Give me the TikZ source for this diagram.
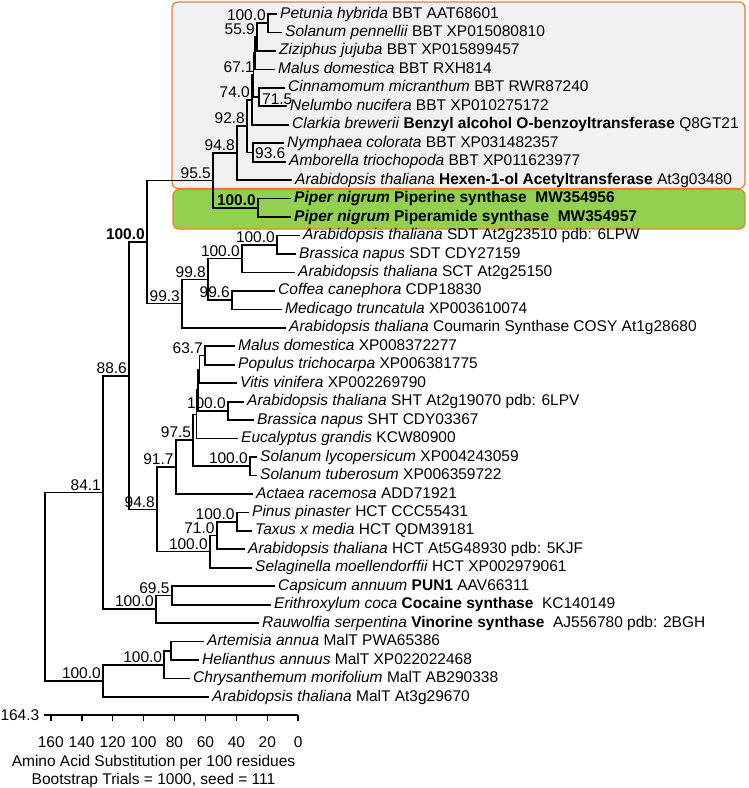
\documentclass[tikz,border=0pt]{standalone}
\usepackage{fontspec}
\setmainfont{Liberation Sans}
\usepackage{xcolor}
\definecolor{cladeorange}{RGB}{237,125,49}
\definecolor{cladegray}{RGB}{241,241,241}
\definecolor{pipergreen}{RGB}{146,208,80}
\usepackage{tikz}
\usetikzlibrary{positioning}

\begin{document}
\begin{tikzpicture}[
  x=1pt,y=-1pt,
  leaf/.style={anchor=west,inner xsep=3pt,inner ysep=0pt,text height=11pt,
    text depth=3pt,font=\fontsize{15.5}{18}\selectfont},
  boot/.style={inner sep=0pt,font=\fontsize{15.5}{18}\selectfont},
  branch/.style={line width=1.7pt},
  clade/.style={draw=cladeorange,line width=1.2pt,rounded corners=6pt}
]
  \useasboundingbox (0,0) rectangle (748,788);
  \draw[clade,fill=cladegray] (172,2) rectangle (745,188.5);
  \draw[clade,fill=pipergreen] (173,189.5) rectangle (745,229);

  % leaves
  \node[leaf] (l1) at (277,14) {\textit{Petunia hybrida} BBT AAT68601};
  \node[leaf] (l2) at (282,32.5) {\textit{Solanum pennellii} BBT XP015080810};
  \node[leaf] (l3) at (276,50.9) {\textit{Ziziphus jujuba} BBT XP015899457};
  \node[leaf] (l4) at (275,69.4) {\textit{Malus domestica} BBT RXH814};
  \node[leaf] (l5) at (285,87.8) {\textit{Cinnamomum micranthum} BBT RWR87240};
  \node[leaf] (l6) at (287,106.3) {\textit{Nelumbo nucifera} BBT XP010275172};
  \node[leaf] (l7) at (289,124.8) {\textit{Clarkia brewerii} \textbf{Benzyl alcohol O-benzoyltransferase} Q8GT21};
  \node[leaf] (l8) at (284,143.2) {\textit{Nymphaea colorata} BBT XP031482357};
  \node[leaf] (l9) at (286,161.7) {\textit{Amborella triochopoda} BBT XP011623977};
  \node[leaf] (l10) at (292,180.1) {\textit{Arabidopsis thaliana} \textbf{Hexen-1-ol Acetyltransferase} At3g03480};
  \node[leaf] (l11) at (291,198.6) {\textbf{\textit{Piper nigrum} Piperine synthase\ \ MW354956}};
  \node[leaf] (l12) at (291,217.1) {\textbf{\textit{Piper nigrum} Piperamide synthase\ \ MW354957}};
  \node[leaf] (l13) at (300,235.5) {\textit{Arabidopsis thaliana} SDT At2g23510 pdb: 6LPW};
  \node[leaf] (l14) at (296,254) {\textit{Brassica napus} SDT CDY27159};
  \node[leaf] (l15) at (295,272.4) {\textit{Arabidopsis thaliana} SCT At2g25150};
  \node[leaf] (l16) at (275,290.9) {\textit{Coffea canephora} CDP18830};
  \node[leaf] (l17) at (282,309.4) {\textit{Medicago truncatula} XP003610074};
  \node[leaf] (l18) at (286,327.8) {\textit{Arabidopsis thaliana} Coumarin Synthase COSY At1g28680};
  \node[leaf] (l19) at (235,346.3) {\textit{Malus domestica} XP008372277};
  \node[leaf] (l20) at (235,364.7) {\textit{Populus trichocarpa} XP006381775};
  \node[leaf] (l21) at (237,383.2) {\textit{Vitis vinifera} XP002269790};
  \node[leaf] (l22) at (244,401.7) {\textit{Arabidopsis thaliana} SHT At2g19070 pdb: 6LPV};
  \node[leaf] (l23) at (254,420.1) {\textit{Brassica napus} SHT CDY03367};
  \node[leaf] (l24) at (238,438.6) {\textit{Eucalyptus grandis} KCW80900};
  \node[leaf] (l25) at (257,457) {\textit{Solanum lycopersicum} XP004243059};
  \node[leaf] (l26) at (257,475.5) {\textit{Solanum tuberosum} XP006359722};
  \node[leaf] (l27) at (253,494) {\textit{Actaea racemosa} ADD71921};
  \node[leaf] (l28) at (249,512.4) {\textit{Pinus pinaster} HCT CCC55431};
  \node[leaf] (l29) at (252,530.9) {\textit{Taxus x media} HCT QDM39181};
  \node[leaf] (l30) at (245,549.3) {\textit{Arabidopsis thaliana} HCT At5G48930 pdb: 5KJF};
  \node[leaf] (l31) at (252,567.8) {\textit{Selaginella moellendorffii} HCT XP002979061};
  \node[leaf] (l32) at (275,586.3) {\textit{Capsicum annuum} \textbf{PUN1} AAV66311};
  \node[leaf] (l33) at (271,604.7) {\textit{Erithroxylum coca} \textbf{Cocaine synthase}\ \ KC140149};
  \node[leaf] (l34) at (259,623.2) {\textit{Rauwolfia serpentina} \textbf{Vinorine synthase}\ \ AJ556780 pdb: 2BGH};
  \node[leaf] (l35) at (204,641.6) {\textit{Artemisia annua} MalT PWA65386};
  \node[leaf] (l36) at (199,660.1) {\textit{Helianthus annuus} MalT XP022022468};
  \node[leaf] (l37) at (190,678.6) {\textit{Chrysanthemum morifolium} MalT AB290338};
  \node[leaf] (l38) at (209,697) {\textit{Arabidopsis thaliana} MalT At3g29670};

  % branch points
  \coordinate (bbt1) at (268,23.2);
  \coordinate (bbt2) at (257,37.1);
  \coordinate (bbt3) at (255,53.2);
  \coordinate (bbt4) at (259,97.1);
  \coordinate (bbt5) at (253.5,75.2);
  \coordinate (bbt6) at (252,100);
  \coordinate (bbt7) at (253,152.5);
  \coordinate (bbt8) at (247,126.2);
  \coordinate (bbt9) at (237,153.2);
  \coordinate (pip) at (258,207.8);
  \coordinate (hex) at (213,180.5);
  \coordinate (sdt1) at (277,244.8);
  \coordinate (sdt2) at (242,258.6);
  \coordinate (cm) at (232,300.1);
  \coordinate (cou1) at (208,279.4);
  \coordinate (cou2) at (182,303.6);
  \coordinate (top) at (147,242);
  \coordinate (sht1) at (205,355.5);
  \coordinate (sht2) at (199.5,369.4);
  \coordinate (sht3) at (228,410.9);
  \coordinate (sht4) at (198,390.1);
  \coordinate (sht5) at (196.5,414.4);
  \coordinate (sol) at (250,466.3);
  \coordinate (sht6) at (193.3,440.3);
  \coordinate (sht7) at (175.7,467.1);
  \coordinate (hct1) at (236.7,521.7);
  \coordinate (hct2) at (216.7,535.5);
  \coordinate (hct3) at (210,551.6);
  \coordinate (shthct) at (157,509.4);
  \coordinate (mid) at (129,375.7);
  \coordinate (pun) at (171.7,595.5);
  \coordinate (vin) at (156,609.3);
  \coordinate (low) at (103,492.5);
  \coordinate (mal1) at (170.7,650.9);
  \coordinate (mal2) at (164.3,664.7);
  \coordinate (mal3) at (103,680.9);
  \coordinate (root) at (45,586.7);

  % branches
  \draw[branch] (l1.west) -| (bbt1) |- (l2.west);
  \draw[branch] (bbt1) -| (bbt2) |- (l3.west);
  \draw[branch] (bbt2) -| (bbt3) |- (l4.west);
  \draw[branch] (l5.west) -| (bbt4) |- (l6.west);
  \draw[branch] (bbt3) -| (bbt5) |- (bbt4);
  \draw[branch] (bbt5) -| (bbt6) |- (l7.west);
  \draw[branch] (l8.west) -| (bbt7) |- (l9.west);
  \draw[branch] (bbt6) -| (bbt8) |- (bbt7);
  \draw[branch] (bbt8) -| (bbt9) |- (l10.west);
  \draw[branch] (l11.west) -| (pip) |- (l12.west);
  \draw[branch] (bbt9) -| (hex) |- (pip);
  \draw[branch] (l13.west) -| (sdt1) |- (l14.west);
  \draw[branch] (sdt1) -| (sdt2) |- (l15.west);
  \draw[branch] (l16.west) -| (cm) |- (l17.west);
  \draw[branch] (sdt2) -| (cou1) |- (cm);
  \draw[branch] (cou1) -| (cou2) |- (l18.west);
  \draw[branch] (hex) -| (top) |- (cou2);
  \draw[branch] (l19.west) -| (sht1) |- (l20.west);
  \draw[branch] (sht1) -| (sht2) |- (l21.west);
  \draw[branch] (l22.west) -| (sht3) |- (l23.west);
  \draw[branch] (sht2) -| (sht4) |- (sht3);
  \draw[branch] (sht4) -| (sht5) |- (l24.west);
  \draw[branch] (l25.west) -| (sol) |- (l26.west);
  \draw[branch] (sht5) -| (sht6) |- (sol);
  \draw[branch] (sht6) -| (sht7) |- (l27.west);
  \draw[branch] (l28.west) -| (hct1) |- (l29.west);
  \draw[branch] (hct1) -| (hct2) |- (l30.west);
  \draw[branch] (hct2) -| (hct3) |- (l31.west);
  \draw[branch] (sht7) -| (shthct) |- (hct3);
  \draw[branch] (top) -| (mid) |- (shthct);
  \draw[branch] (l32.west) -| (pun) |- (l33.west);
  \draw[branch] (pun) -| (vin) |- (l34.west);
  \draw[branch] (mid) -| (low) |- (vin);
  \draw[branch] (l35.west) -| (mal1) |- (l36.west);
  \draw[branch] (mal1) -| (mal2) |- (l37.west);
  \draw[branch] (mal2) -| (mal3) |- (l38.west);
  \draw[branch] (low) -| (root) |- (mal3);

  % bootstrap values
  \node[boot,above left=2pt and 2pt of bbt1] (b1) {100.0};
  \node[boot,above left=2pt and 2pt of bbt2] (b2) {55.9};
  \node[boot,anchor=south east] (b3) at (254,73) {67.1};
  \node[boot,anchor=south west] (b4) at (262,105) {71.5};
  \node[boot,above left=2pt and 2pt of bbt6] (b6) {74.0};
  \node[boot,anchor=south west] (b7) at (255,159) {93.6};
  \node[boot,above left=2pt and 2pt of bbt8] (b8) {92.8};
  \node[boot,above left=2pt and 2pt of bbt9] (b9) {94.8};
  \node[boot,above left=2pt and 2pt of pip,font=\fontsize{15.5}{18}\selectfont\bfseries] (bpip) {100.0};
  \node[boot,above left=2pt and 2pt of hex] (bhex) {95.5};
  \node[boot,above left=2pt and 2pt of sdt1] (bsdt1) {100.0};
  \node[boot,above left=2pt and 2pt of sdt2] (bsdt2) {100.0};
  \node[boot,above left=2pt and 2pt of cm] (bcm) {99.6};
  \node[boot,above left=2pt and 2pt of cou1] (bcou1) {99.8};
  \node[boot,above left=2pt and 2pt of cou2] (bcou2) {99.3};
  \node[boot,above left=2pt and 2pt of top,font=\fontsize{15.5}{18}\selectfont\bfseries] (btop) {100.0};
  \node[boot,above left=2pt and 2pt of sht1] (bsht1) {63.7};
  \node[boot,above left=2pt and 2pt of sht3] (bsht3) {100.0};
  \node[boot,above left=2pt and 2pt of sol] (bsol) {100.0};
  \node[boot,above left=2pt and 2pt of sht6] (bsht6) {97.5};
  \node[boot,above left=2pt and 2pt of sht7] (bsht7) {91.7};
  \node[boot,above left=2pt and 2pt of hct1] (bhct1) {100.0};
  \node[boot,above left=2pt and 2pt of hct2] (bhct2) {71.0};
  \node[boot,above left=2pt and 2pt of hct3] (bhct3) {100.0};
  \node[boot,above left=2pt and 2pt of shthct] (bshthct) {94.8};
  \node[boot,above left=2pt and 2pt of mid] (bmid) {88.6};
  \node[boot,above left=2pt and 2pt of pun] (bpun) {69.5};
  \node[boot,above left=2pt and 2pt of vin] (bvin) {100.0};
  \node[boot,above left=2pt and 2pt of low] (blow) {84.1};
  \node[boot,above left=2pt and 2pt of mal2] (bmal2) {100.0};
  \node[boot,above left=2pt and 2pt of mal3] (bmal3) {100.0};

  % distance scale
  \coordinate (s0) at (298.3,715);
  \coordinate (smax) at (44.1,715);
  \draw[branch] (smax) -- (s0);
  \foreach \v in {0,20,...,160}
    \draw[branch] ({298.3-1.5475*\v},715) -- ++(0,5.5)
      node[boot,anchor=base,yshift=-27pt] {\v};
  \node[boot,anchor=east] (smaxlab) at (39.5,715) {164.3};
  \node[boot,anchor=base] (cap1) at (153.5,766) {Amino Acid Substitution per 100 residues};
  \node[boot,anchor=base] (cap2) at (153.5,784) {Bootstrap Trials = 1000, seed = 111};
\end{tikzpicture}
\end{document}
